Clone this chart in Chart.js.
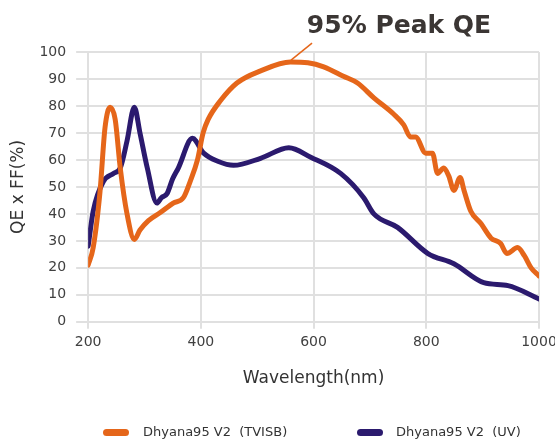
<!DOCTYPE html>
<html>
<head>
<meta charset="utf-8">
<script src="https://cdn.jsdelivr.net/npm/chart.js@4"></script>
<style>
    html, body { margin: 0; padding: 0; background: #fff; }
    #wrap { position: relative; width: 555px; height: 439px; }
    #legend { position: absolute; top: 424px; left: 0; width: 555px; height: 16px;
              font-family: "DejaVu Sans", sans-serif; font-size: 13px; color: #333; }
    .item { position: absolute; top: 0; white-space: pre; line-height: 16px; }
    .swatch { position: absolute; top: 5px; width: 26px; height: 7px; border-radius: 4px; }
</style>
</head>
<body>
<div id="wrap">
    <canvas id="qeChart" width="555" height="439"></canvas>
    <div id="legend"></div>
</div>
<script>
const tvisbNm = [200, 209, 221, 230, 239, 248, 257, 269, 282, 292, 307, 328, 351, 369, 381, 394, 404, 413, 435, 464, 506, 559, 590, 618, 653, 678, 707, 742, 760, 772, 781, 799, 811, 820, 831, 840, 849, 860, 867, 879, 897, 915, 932, 943, 962, 974, 986, 1000];
const tvisbQE = [21, 27.5, 48, 72, 79.5, 75, 57, 40, 30.5, 34, 37.5, 40.5, 44, 46, 52, 60, 70, 75, 82, 88.5, 93, 96.3, 96, 94.5, 91, 88.5, 83, 77, 73, 68.5, 68.5, 62.5, 62.5, 55, 57, 54, 48.7, 53.5, 48.7, 41, 36.4, 31, 29, 25.3, 27.5, 24.5, 20, 17];

const uvNm = [200, 209, 227, 245, 257, 269, 282, 292, 305, 322, 330, 340, 350, 360, 385, 405, 430, 458, 506, 556, 595, 648, 689, 707, 749, 803, 849, 902, 945, 1000];
const uvQE = [28, 41, 52, 55, 57, 67, 79.5, 70, 57, 44, 46, 47.5, 53, 57, 68, 62.5, 59.5, 58, 60.6, 64.5, 61, 55, 46, 40, 35, 25.3, 21.5, 14.5, 13.4, 8.5];

const seriesNames = ['Dhyana95 V2  (TVISB)', 'Dhyana95 V2  (UV)'];
const seriesColors = ['#E5661A', '#2B1A6E'];
const yTicks = [0, 10, 20, 30, 40, 50, 60, 70, 80, 90, 100];
const xTicks = [200, 400, 600, 800, 1000];
const peakLabel = '95% Peak QE';
const peakPoint = { x: 560, y: 97 };

const toPoints = (xs, ys) => xs.map((x, i) => ({ x: x, y: ys[i] }));

const peakPlugin = {
    id: 'peakNote',
    afterDatasetsDraw(chart) {
        const ctx = chart.ctx;
        const px = chart.scales.x.getPixelForValue(peakPoint.x);
        const py = chart.scales.y.getPixelForValue(peakPoint.y);
        ctx.save();
        ctx.strokeStyle = seriesColors[0];
        ctx.lineWidth = 1.5;
        ctx.beginPath();
        ctx.moveTo(px, py);
        ctx.lineTo(px + 21, py - 17);
        ctx.stroke();
        ctx.fillStyle = '#3b3634';
        ctx.font = 'bold 25px "DejaVu Sans"';
        ctx.textAlign = 'center';
        ctx.textBaseline = 'alphabetic';
        ctx.fillText(peakLabel, px + 108, 33);
        ctx.restore();
    }
};

const gridColor = '#e0e0e0';
const textColor = '#404040';

new Chart(document.getElementById('qeChart'), {
    type: 'line',
    data: {
        datasets: [
            { label: seriesNames[0], data: toPoints(tvisbNm, tvisbQE), borderColor: seriesColors[0] },
            { label: seriesNames[1], data: toPoints(uvNm, uvQE), borderColor: seriesColors[1] }
        ].map(d => Object.assign(d, {
            borderWidth: 5,
            pointRadius: 0,
            fill: false,
            cubicInterpolationMode: 'monotone',
            borderCapStyle: 'round',
            borderJoinStyle: 'round'
        }))
    },
    options: {
        responsive: false,
        animation: false,
        layout: { padding: { left: 0, right: 16, top: 52, bottom: 50 } },
        plugins: { legend: { display: false }, tooltip: { enabled: false } },
        scales: {
            x: {
                type: 'linear',
                min: 200,
                max: 1000,
                afterBuildTicks: axis => { axis.ticks = xTicks.map(v => ({ value: v })); },
                afterFit: axis => { axis.paddingRight = 0; },
                ticks: { color: textColor, font: { family: 'DejaVu Sans', size: 14 }, padding: 5, maxRotation: 0, callback: v => String(v) },
                grid: { color: gridColor, lineWidth: 2, tickLength: 7 },
                border: { color: gridColor, width: 2 },
                title: { display: true, text: 'Wavelength(nm)', color: '#333', font: { family: 'DejaVu Sans', size: 17 }, padding: { top: 13, bottom: 0 } }
            },
            y: {
                min: 0,
                max: 100,
                afterBuildTicks: axis => { axis.ticks = yTicks.map(v => ({ value: v })); },
                ticks: { color: textColor, font: { family: 'DejaVu Sans', size: 14 }, padding: 10, callback: v => String(v) },
                grid: { color: gridColor, lineWidth: 2, tickLength: 12 },
                border: { color: gridColor, width: 2 },
                title: { display: true, text: 'QE x FF(%)', color: '#333', font: { family: 'DejaVu Sans', size: 17 }, padding: { top: 8, bottom: 1 } }
            }
        }
    },
    plugins: [peakPlugin]
});

const legend = document.getElementById('legend');
const legendPos = [[103, 143], [357, 396]];
seriesNames.forEach((name, i) => {
    const sw = document.createElement('div');
    sw.className = 'swatch';
    sw.style.left = legendPos[i][0] + 'px';
    sw.style.background = seriesColors[i];
    legend.appendChild(sw);
    const tx = document.createElement('div');
    tx.className = 'item';
    tx.style.left = legendPos[i][1] + 'px';
    tx.textContent = name;
    legend.appendChild(tx);
});
</script>
</body>
</html>
